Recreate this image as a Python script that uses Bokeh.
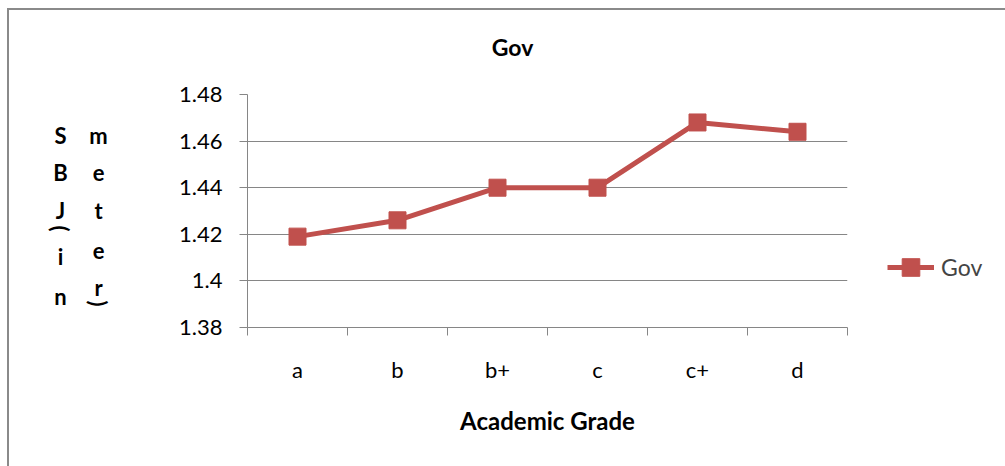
import math
from bokeh.plotting import figure
from bokeh.layouts import row, column
from bokeh.models import (Legend, LegendItem, FixedTicker, Range1d,
                          ColumnDataSource)
from bokeh.core.properties import value
from bokeh.embed import file_html
from bokeh.resources import INLINE

# ---- data ----
grades = ["a", "b", "b+", "c", "c+", "d"]
sbj = [1.419, 1.426, 1.440, 1.440, 1.468, 1.464]
y_ticks = [1.38, 1.40, 1.42, 1.44, 1.46, 1.48]
y_tick_labels = ["1.38", "1.4", "1.42", "1.44", "1.46", "1.48"]
series_name = "Gov"
chart_title = "Gov"
x_title = "Academic Grade"
y_title = "SBJ(in meter)"

FONT = "Lato"
RED = "#C0504D"
GRAY = "#868686"

# layout (page pixels): content starts at (9, 10)
LEFT_W = 141
MAIN_W = 855
TOP_H = 64
ROW_H = 392


def strip(width, height):
    f = figure(width=width, height=height, title=None,
               x_range=Range1d(0, width), y_range=Range1d(height, 0),
               x_axis_type=None, y_axis_type=None,
               output_backend="svg", toolbar_location=None,
               min_border=0, min_border_left=0, min_border_right=0,
               min_border_top=0, min_border_bottom=0)
    f.frame_align = False
    f.outline_line_color = None
    f.grid.grid_line_color = None
    f.background_fill_color = "white"
    f.border_fill_color = "white"
    return f


# ---------------- title strip ----------------
top = strip(LEFT_W + MAIN_W, TOP_H)
tsrc = ColumnDataSource(dict(x=[512 - 9], y=[46 - 10], t=[chart_title]))
top.text("x", "y", text="t", source=tsrc, text_font=value(FONT),
         text_font_style="bold", text_font_size="23px",
         text_align="center", text_baseline="middle", text_color="black")

# ---------------- main chart ----------------
xpos = [i + 0.5 for i in range(len(grades))]
src = ColumnDataSource(dict(x=xpos, y=sbj, grade=grades))

p = figure(frame_width=600, frame_height=233, title=None,
           x_range=Range1d(0, len(grades)), y_range=Range1d(y_ticks[0], y_ticks[-1]),
           output_backend="svg", toolbar_location=None,
           min_border_left=97, min_border_right=MAIN_W - 97 - 600,
           min_border_top=20, min_border_bottom=ROW_H - 20 - 233)
p.frame_align = False
p.outline_line_color = None
p.background_fill_color = "white"
p.border_fill_color = "white"

xa = p.xaxis[0]
xa.ticker = FixedTicker(ticks=xpos, minor_ticks=list(range(len(grades) + 1)))
xa.major_label_overrides = {x: g for x, g in zip(xpos, grades)}
xa.major_tick_line_color = None
xa.major_tick_out = 0
xa.major_tick_in = 0
xa.minor_tick_line_color = GRAY
xa.minor_tick_out = 8
xa.minor_tick_in = 0
xa.axis_line_color = GRAY
xa.major_label_text_font = FONT
xa.major_label_text_font_size = "22px"
xa.major_label_text_color = "black"
xa.major_label_standoff = 20
xa.axis_label = x_title
xa.axis_label_text_font = FONT
xa.axis_label_text_font_style = "bold"
xa.axis_label_text_font_size = "24px"
xa.axis_label_text_color = "black"
xa.axis_label_standoff = 20

ya = p.yaxis[0]
ya.ticker = FixedTicker(ticks=y_ticks, minor_ticks=[])
ya.major_label_overrides = {t: l for t, l in zip(y_ticks, y_tick_labels)}
ya.major_tick_line_color = GRAY
ya.major_tick_out = 8
ya.major_tick_in = 0
ya.minor_tick_line_color = None
ya.axis_line_color = GRAY
ya.major_label_text_font = FONT
ya.major_label_text_font_size = "22px"
ya.major_label_text_color = "black"
ya.major_label_standoff = 17

p.xgrid.grid_line_color = None
p.ygrid.ticker = FixedTicker(ticks=y_ticks[1:])
p.ygrid.grid_line_color = GRAY
p.ygrid.grid_line_width = 1

r_line = p.line("x", "y", source=src, line_color=RED, line_width=5)
r_sq = p.scatter("x", "y", source=src, marker="square", size=17,
                 fill_color=RED, line_color=RED)

legend = Legend(items=[LegendItem(label=series_name, renderers=[r_line, r_sq])],
                location=(40, 38), padding=0, margin=0, spacing=0,
                glyph_width=47, glyph_height=44, label_standoff=7,
                border_line_color=None, background_fill_alpha=0,
                label_text_font=FONT, label_text_font_size="23px")
p.add_layout(legend, "right")

# ---------------- stacked y-axis title (left strip) ----------------
q = strip(LEFT_W, ROW_H)
ROW_TOP = 10 + TOP_H
chars = list(y_title.replace(" ", ""))          # S B J ( i n m e t e r )
col_x = [60] * 6 + [98] * 6                      # page x of the two columns
row_y = [135, 172, 210, 228, 256, 296, 135, 172, 210, 250, 287, 303]
lbl = ColumnDataSource(dict(
    x=[cx - 9 for cx in col_x],
    y=[ry - ROW_TOP for ry in row_y],
    t=chars,
    a=[-math.pi / 2 if c in "()" else 0.0 for c in chars],
))
q.text("x", "y", text="t", angle="a", source=lbl,
       text_font=value(FONT), text_font_style="bold", text_font_size="22px",
       text_align="center", text_baseline="middle", text_color="black")

layout = column(top, row(q, p, spacing=0), spacing=0, margin=(8, 0, 0, 7),
                styles={"border-top": "2px solid #8a8a8a",
                        "border-left": "2px solid #8a8a8a"})

open("out.html", "w").write(file_html(layout, INLINE))
